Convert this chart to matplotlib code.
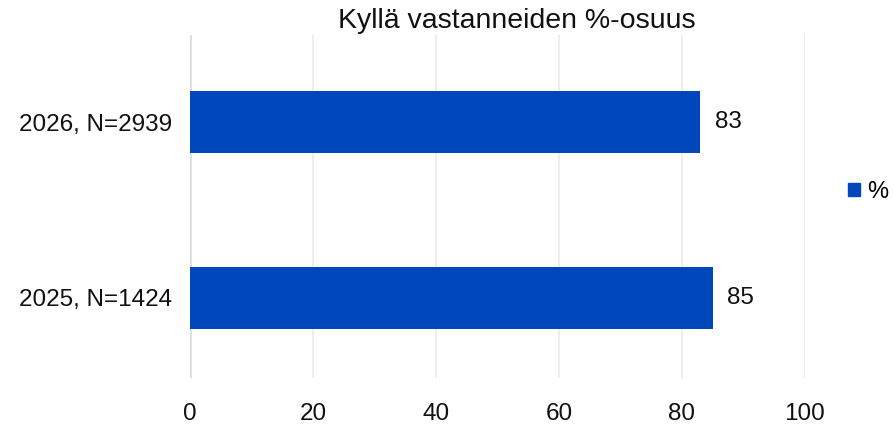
import matplotlib.pyplot as plt
from matplotlib.patches import Patch

plt.rcParams["font.family"] = ["Liberation Sans", "DejaVu Sans"]

categories = ["2025, N=1424", "2026, N=2939"]
values = [85, 83]
series_name = "%"
title = "Kyllä vastanneiden %-osuus"
xticks = [0, 20, 40, 60, 80, 100]

bar_color = "#0047bb"

fig = plt.figure(figsize=(8.95, 4.29), dpi=100)
ax = fig.add_axes([0.2123, 0.119, 0.6871, 0.799])

ypos = list(range(len(categories)))
bars = ax.barh(ypos, values, height=0.352, color=bar_color, zorder=3)

for b, v in zip(bars, values):
    ax.text(b.get_width() + 2.3, b.get_y() + b.get_height() / 2, str(v),
            va="center", ha="left", fontsize=17.5, color="#111111")

ax.set_xlim(0, 100)
ax.set_ylim(-0.455, 1.494)
ax.set_xticks(xticks)
ax.set_yticks(ypos)
ax.set_yticklabels(categories)
ax.tick_params(axis="both", length=0, labelsize=17.5, colors="#111111")
ax.tick_params(axis="x", pad=18)
ax.tick_params(axis="y", pad=13)

ax.grid(axis="x", color="#ebebeb", linewidth=1.2, zorder=0)
ax.axvline(0, color="#d9d9d9", linewidth=1.8, zorder=2)
for s in ax.spines.values():
    s.set_visible(False)

fig.text(0.578, 0.951, title, ha="center", va="center", fontsize=20.5, color="#111111")

fig.legend(handles=[Patch(color=bar_color, label=series_name)],
           loc="center left", bbox_to_anchor=(0.942, 0.553), frameon=False,
           fontsize=17, handlelength=0.5, handleheight=0.5, handletextpad=0.3,
           borderpad=0.1, borderaxespad=0.1)

fig.savefig("out.png", dpi=100)
